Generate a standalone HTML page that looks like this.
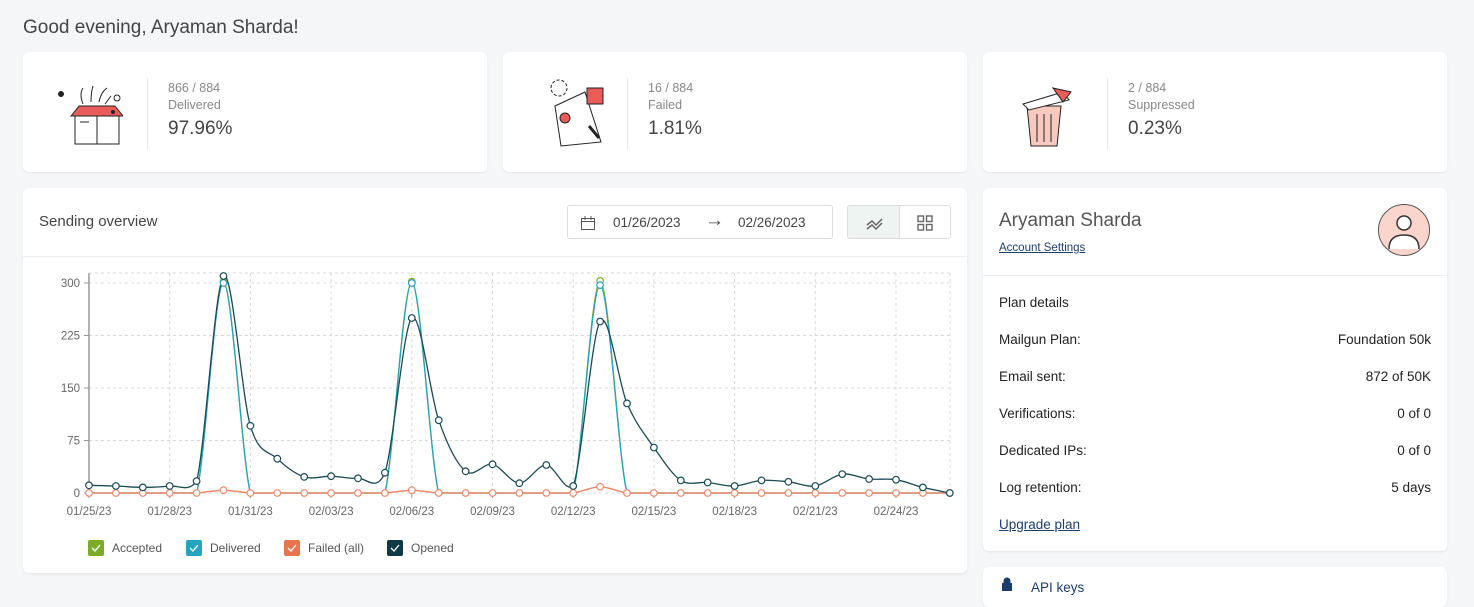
<!DOCTYPE html>
<html><head><meta charset="utf-8"><style>
*{box-sizing:border-box;margin:0;padding:0}
body{width:1474px;height:588px;overflow:hidden;background:#f5f6f8;font-family:"Liberation Sans",Arial,sans-serif;position:relative;color:#333}
.card{position:absolute;background:#fff;border-radius:6px;box-shadow:0 1px 2px rgba(0,0,0,.08)}
.abs{position:absolute}
.sm{font-size:12.5px;color:#888;line-height:17px}
.big{font-size:19px;color:#444}
.vd{position:absolute;left:124px;top:26px;width:1px;height:72px;background:#e8e8e8}
.row{position:absolute;left:16px;right:16px;font-size:13.5px;color:#222;display:flex;justify-content:space-between}
a{color:#1d3c6e;text-decoration:underline}
</style></head><body>
<div class="abs" style="left:23px;top:17px;font-size:19px;color:#444">Good evening, Aryaman Sharda!</div>

<div class="card" style="left:23px;top:52px;width:464px;height:120px">
<svg class="abs" style="left:30px;top:22px" width="70" height="78" viewBox="0 0 70 78">
<path d="M22 70V42h44v28z" fill="#fff" stroke="#222"/><path d="M44 42v28" stroke="#222"/>
<path d="M18 42l8-10h36l8 10z" fill="#e85d5a" stroke="#222"/><path d="M27 48h9" stroke="#222"/>
<path d="M30 30q-4-10 0-16M38 28q0-10 2-16M46 28q2-10 8-14M52 30l6-8" stroke="#222" fill="none"/>
<circle cx="8" cy="20" r="3" fill="#222"/><circle cx="64" cy="24" r="3" fill="none" stroke="#222"/><circle cx="60" cy="38" r="2" fill="#222"/></svg>
<div class="vd"></div>
<div class="abs sm" style="left:145px;top:28px">866 / 884<br>Delivered</div>
<div class="abs big" style="left:145px;top:66px">97.96%</div></div>

<div class="card" style="left:503px;top:52px;width:464px;height:120px">
<svg class="abs" style="left:30px;top:24px" width="80" height="76" viewBox="0 0 80 76">
<path d="M22 30l30-14 16 50-40 4z" fill="#fff" stroke="#222"/><rect x="54" y="12" width="16" height="16" fill="#e85d5a" stroke="#222"/>
<circle cx="32" cy="42" r="5" fill="#e85d5a" stroke="#222"/><path d="M56 50l10 12" stroke="#222" stroke-width="3"/>
<circle cx="26" cy="12" r="8" fill="none" stroke="#222" stroke-dasharray="3 2"/></svg>
<div class="vd"></div>
<div class="abs sm" style="left:145px;top:28px">16 / 884<br>Failed</div>
<div class="abs big" style="left:145px;top:66px">1.81%</div></div>

<div class="card" style="left:983px;top:52px;width:464px;height:120px">
<svg class="abs" style="left:30px;top:22px" width="80" height="76" viewBox="0 0 80 76">
<path d="M14 32h34l-4 40H18z" fill="#f8c9bf" stroke="#222"/><path d="M10 30l40-12 6 8-40 10z" fill="#fff" stroke="#222"/>
<path d="M40 14l18 4-8 10z" fill="#e85d5a" stroke="#222"/><path d="M24 40v28M31 40v28M38 40v28" stroke="#222"/></svg>
<div class="vd"></div>
<div class="abs sm" style="left:145px;top:28px">2 / 884<br>Suppressed</div>
<div class="abs big" style="left:145px;top:66px">0.23%</div></div>

<div class="card" style="left:23px;top:188px;width:944px;height:385px">
<div class="abs" style="left:16px;top:25px;font-size:15px;color:#444">Sending overview</div>
<div class="abs" style="left:544px;top:17px;width:266px;height:34px;border:1px solid #ddd;border-radius:3px;font-size:13.5px;color:#444">
<svg class="abs" style="left:12px;top:9px" width="16" height="16"><rect x="1.5" y="3.5" width="13" height="11" fill="none" stroke="#555"/><path d="M1.5 6.5h13M5 1v4M11 1v4" stroke="#555"/></svg>
<span class="abs" style="left:45px;top:9px">01/26/2023</span>
<span class="abs" style="left:137px;top:4px;font-size:19px">→</span>
<span class="abs" style="left:170px;top:9px">02/26/2023</span></div>
<div class="abs" style="left:824px;top:17px;width:104px;height:34px;border:1px solid #ddd;border-radius:3px;overflow:hidden">
<div class="abs" style="left:0;top:0;width:52px;height:34px;background:#eef4f1;border-right:1px solid #ddd"></div>
<svg class="abs" style="left:17px;top:9px" width="18" height="16"><path d="M2 10l5-4 4 4 6-6M2 14l5-4 4 4 6-6" stroke="#666" fill="none" stroke-width="1.5"/></svg>
<svg class="abs" style="left:69px;top:9px" width="16" height="16"><g fill="none" stroke="#666" stroke-width="1.4"><rect x="1" y="1" width="5.5" height="5.5"/><rect x="9.5" y="1" width="5.5" height="5.5"/><rect x="1" y="9.5" width="5.5" height="5.5"/><rect x="9.5" y="9.5" width="5.5" height="5.5"/></g></svg></div>
<div class="abs" style="left:0;top:68px;width:944px;height:1px;background:#eee"></div>
</div>

<svg id="ch" class="abs" style="left:0;top:0" width="1474" height="588" font-family="Liberation Sans,Arial,sans-serif"></svg>

<div class="card" style="left:983px;top:188px;width:464px;height:363px">
<div class="abs" style="left:16px;top:22px;font-size:19px;color:#555">Aryaman Sharda</div>
<a class="abs" style="left:16px;top:54px;font-size:11.5px">Account Settings</a>
<svg class="abs" style="left:394px;top:15px" width="54" height="54"><circle cx="27" cy="27" r="25.5" fill="#fbd5cb" stroke="#555"/><circle cx="27" cy="20" r="7" fill="#fff" stroke="#333" stroke-width="1.5"/><path d="M12 46q0-14 15-14t15 14" fill="#fff" stroke="#333" stroke-width="1.5"/></svg>
<div class="abs" style="left:0;top:87px;width:464px;height:1px;background:#eee"></div>
<div class="row" style="top:107px"><span>Plan details</span></div>
<div class="row" style="top:144px"><span>Mailgun Plan:</span><span>Foundation 50k</span></div>
<div class="row" style="top:181px"><span>Email sent:</span><span>872 of 50K</span></div>
<div class="row" style="top:218px"><span>Verifications:</span><span>0 of 0</span></div>
<div class="row" style="top:255px"><span>Dedicated IPs:</span><span>0 of 0</span></div>
<div class="row" style="top:292px"><span>Log retention:</span><span>5 days</span></div>
<a class="abs" style="left:16px;top:329px;font-size:13.5px">Upgrade plan</a>
</div>
<div class="card" style="left:983px;top:567px;width:464px;height:40px">
<svg class="abs" style="left:18px;top:10px" width="12" height="14"><path d="M2 14V7h8v7zM3.5 7V4a2.5 2.5 0 0 1 5 0v3" fill="#1d3c6e" stroke="#1d3c6e" stroke-width="2"/></svg>
<span class="abs" style="left:48px;top:13px;color:#1d3c6e;font-size:13.5px">API keys</span></div>

<script>
const s=document.getElementById('ch');let h='';
const X=i=>89+i*26.9, Y=v=>493-v*0.7;
const ys=[0,75,150,225,300];
for(let i=0;i<=32;i+=3){h+=`<line x1="${X(i)}" y1="273" x2="${X(i)}" y2="493" stroke="#d8d8d8" stroke-dasharray="3 3"/>`;}
h+=`<line x1="950" y1="273" x2="950" y2="493" stroke="#d8d8d8" stroke-dasharray="3 3"/>`;
ys.forEach(v=>{h+=`<line x1="89" y1="${Y(v)}" x2="950" y2="${Y(v)}" stroke="#d8d8d8" stroke-dasharray="3 3"/><text x="80" y="${Y(v)+4}" font-size="11.5" fill="#666" text-anchor="end">${v}</text><line x1="84" y1="${Y(v)}" x2="89" y2="${Y(v)}" stroke="#999"/>`;});
h+=`<line x1="89" y1="273" x2="89" y2="493" stroke="#999" stroke-width="1.5"/>`;
h+=`<line x1="89" y1="273" x2="950" y2="273" stroke="#d8d8d8" stroke-dasharray="3 3"/>`;
const d=['01/25/23','01/28/23','01/31/23','02/03/23','02/06/23','02/09/23','02/12/23','02/15/23','02/18/23','02/21/23','02/24/23'];
d.forEach((t,k)=>{const x=X(k*3);h+=`<line x1="${x}" y1="493" x2="${x}" y2="498" stroke="#999"/><text x="${x}" y="515" font-size="11.5" fill="#666" text-anchor="middle">${t}</text>`;});
function path(v){let p=v.map((a,i)=>[X(i),Y(a)]);let o=`M${p[0][0]},${p[0][1]}`;
for(let i=0;i<p.length-1;i++){const p0=p[i-1]||p[i],p1=p[i],p2=p[i+1],p3=p[i+2]||p2;const t=0.16;
o+=`C${p1[0]+(p2[0]-p0[0])*t},${Math.min(493,p1[1]+(p2[1]-p0[1])*t)} ${p2[0]-(p3[0]-p1[0])*t},${Math.min(493,p2[1]-(p3[1]-p1[1])*t)} ${p2[0]},${p2[1]}`;}return o;}
const z=n=>Array(33).fill(0);
let acc=z(),del=z(),fail=z();
acc[5]=302;acc[12]=302;acc[19]=303;del[5]=300;del[12]=300;del[19]=297;fail[5]=4;fail[12]=4;fail[19]=9;
const op=[11,10,8,10,17,310,96,49,23,24,21,29,250,104,31,41,14,40,10,245,128,65,18,15,10,18,16,10,27,20,19,8,0];
h+=`<path d="${path(acc)}" fill="none" stroke="#7aab2a" stroke-width="1.3"/>`;
h+=`<path d="${path(del)}" fill="none" stroke="#25a2c0" stroke-width="1.3"/>`;
h+=`<path d="${path(fail)}" fill="none" stroke="#ee8a6c" stroke-width="1.5"/>`;
h+=`<path d="${path(op)}" fill="none" stroke="#1a4a55" stroke-width="1.3"/>`;
[[acc,'#7aab2a',1],[del,'#25a2c0',1],[fail,'#ee8a6c',0],[op,'#1a4a55',0]].forEach(([v,c,only])=>{v.forEach((a,i)=>{if(only&&a==0)return;h+=`<circle cx="${X(i)}" cy="${Y(a)}" r="3.3" fill="#fff" stroke="${c}" stroke-width="1.2"/>`;});});
[['Accepted','#7aab2a',88],['Delivered','#25a2c0',186],['Failed (all)','#e8734f',284],['Opened','#0e3a46',387]].forEach(([t,c,x])=>{h+=`<rect x="${x}" y="540" width="16" height="16" rx="2" fill="${c}"/><path d="M${x+4} ${548}l3 3 5-6" stroke="#fff" fill="none" stroke-width="1.3"/><text x="${x+24}" y="552" font-size="12" fill="#555">${t}</text>`;});
s.innerHTML=h;
</script>
</body></html>
